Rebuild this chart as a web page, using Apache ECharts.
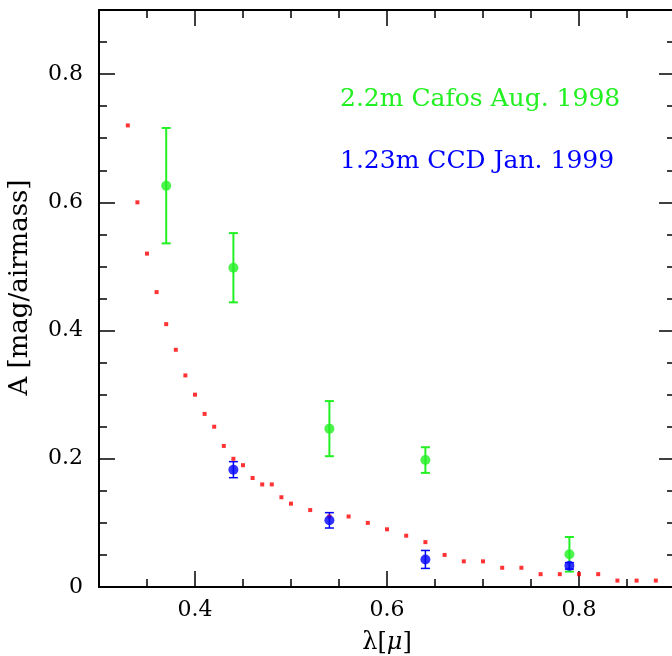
<!DOCTYPE html>
<html>
<head>
<meta charset="utf-8">
<script src="https://cdn.jsdelivr.net/npm/echarts@6/dist/echarts.min.js"></script>
<style>
  html, body { margin: 0; padding: 0; background: #fff; }
  #chart { width: 672px; height: 656px; }
</style>
</head>
<body>
<div id="chart"></div>
<script>
// model extinction curve (red dots)
const modelX = [0.33, 0.34, 0.35, 0.36, 0.37, 0.38, 0.39, 0.40, 0.41, 0.42, 0.43, 0.44, 0.45,
  0.46, 0.47, 0.48, 0.49, 0.50, 0.52, 0.54, 0.56, 0.58, 0.60, 0.62, 0.64, 0.66, 0.68, 0.70,
  0.72, 0.74, 0.76, 0.78, 0.80, 0.82, 0.84, 0.86, 0.88];
const modelY = [0.72, 0.60, 0.52, 0.46, 0.41, 0.37, 0.33, 0.30, 0.27, 0.25, 0.22, 0.20, 0.19,
  0.17, 0.16, 0.16, 0.14, 0.13, 0.12, 0.11, 0.11, 0.10, 0.09, 0.08, 0.07, 0.05, 0.04, 0.04,
  0.03, 0.03, 0.02, 0.02, 0.02, 0.02, 0.01, 0.01, 0.01];

// 2.2m Cafos Aug. 1998
const cafosX = [0.37, 0.44, 0.54, 0.64, 0.79];
const cafosY = [0.626, 0.498, 0.247, 0.198, 0.051];
const cafosErr = [0.09, 0.054, 0.043, 0.02, 0.027];

// 1.23m CCD Jan. 1999
const ccdX = [0.44, 0.54, 0.64, 0.79];
const ccdY = [0.183, 0.104, 0.043, 0.033];
const ccdErr = [0.0125, 0.012, 0.014, 0.005];

const xMajor = [0.4, 0.6, 0.8];
const yMajor = [0, 0.2, 0.4, 0.6, 0.8];

const GREEN = '#22f022';
const BLUE = '#0000ff';
const FONT = 'DejaVu Serif';

const myChart = echarts.init(document.getElementById('chart'));

function errorBars(xs, ys, errs, color, width) {
  return {
    type: 'custom',
    data: xs.map((x, i) => [x, ys[i], errs[i]]),
    encode: {x: 0, y: 1},
    renderItem: function (params, api) {
      const x = api.value(0), y = api.value(1), e = api.value(2);
      const hi = api.coord([x, y + e]);
      const lo = api.coord([x, y - e]);
      const h = 4.5;
      const st = {stroke: color, lineWidth: width};
      return {
        type: 'group',
        children: [
          {type: 'line', shape: {x1: hi[0], y1: hi[1], x2: lo[0], y2: lo[1]}, style: st},
          {type: 'line', shape: {x1: hi[0] - h, y1: hi[1], x2: hi[0] + h, y2: hi[1]}, style: st},
          {type: 'line', shape: {x1: lo[0] - h, y1: lo[1], x2: lo[0] + h, y2: lo[1]}, style: st}
        ]
      };
    }
  };
}

// each side gets a minor axis (every 0.05) and a major one (long ticks)
function xAx(pos, major, withLabels) {
  return {
    type: 'value', position: pos, min: 0.3, max: 0.9, interval: 0.05,
    splitLine: {show: false},
    axisLine: {show: !major, onZero: false, lineStyle: {color: '#000', width: 2}},
    axisTick: major
      ? {inside: true, length: 16, customValues: xMajor, lineStyle: {color: '#000', width: 1.5}}
      : {inside: true, length: 8, lineStyle: {color: '#000', width: 1.5}},
    axisLabel: {show: withLabels, customValues: xMajor, margin: 12,
      color: '#000', fontSize: 22, fontFamily: FONT},
    name: withLabels ? 'λ[{i|μ}]' : '',
    nameLocation: 'middle', nameGap: 44,
    nameTextStyle: {color: '#000', fontSize: 24, fontFamily: FONT,
      rich: {i: {fontStyle: 'italic', fontSize: 24, fontFamily: FONT, color: '#000'}}}
  };
}

function yAx(pos, major, withLabels) {
  return {
    type: 'value', position: pos, min: 0, max: 0.9, interval: 0.05,
    splitLine: {show: false},
    axisLine: {show: !major, onZero: false, lineStyle: {color: '#000', width: 2}},
    axisTick: major
      ? {inside: true, length: 16, customValues: yMajor, lineStyle: {color: '#000', width: 1.5}}
      : {inside: true, length: 8, lineStyle: {color: '#000', width: 1.5}},
    axisLabel: {show: withLabels, customValues: yMajor, margin: 16,
      color: '#000', fontSize: 22, fontFamily: FONT},
    name: withLabels ? 'A [mag/airmass]' : '',
    nameLocation: 'middle', nameGap: 66,
    nameTextStyle: {color: '#000', fontSize: 26, fontFamily: FONT, padding: [0, 0, 0, 22]}
  };
}

var option = {
  animation: false,
  backgroundColor: '#fff',
  grid: {left: 99, top: 10, right: -3, bottom: 69, outerBoundsMode: 'none'},
  xAxis: [xAx('bottom', false, true), xAx('bottom', true, false),
    xAx('top', false, false), xAx('top', true, false)],
  yAxis: [yAx('left', false, true), yAx('left', true, false),
    yAx('right', false, false), yAx('right', true, false)],
  graphic: [
    {type: 'text', left: 340, top: 87,
      style: {text: '2.2m Cafos Aug. 1998', fill: GREEN, fontSize: 25, fontFamily: FONT}},
    {type: 'text', left: 340, top: 149,
      style: {text: '1.23m CCD Jan. 1999', fill: BLUE, fontSize: 25, fontFamily: FONT}}
  ],
  series: [
    {
      type: 'scatter', symbol: 'rect', symbolSize: 4,
      itemStyle: {color: '#ff0000'},
      data: modelX.map((x, i) => [x, modelY[i]])
    },
    errorBars(cafosX, cafosY, cafosErr, GREEN, 2),
    {
      type: 'scatter', symbolSize: 10, itemStyle: {color: GREEN},
      data: cafosX.map((x, i) => [x, cafosY[i]])
    },
    errorBars(ccdX, ccdY, ccdErr, BLUE, 1.5),
    {
      type: 'scatter', symbolSize: 10, itemStyle: {color: BLUE},
      data: ccdX.map((x, i) => [x, ccdY[i]])
    }
  ]
};

myChart.setOption(option);
</script>
</body>
</html>
